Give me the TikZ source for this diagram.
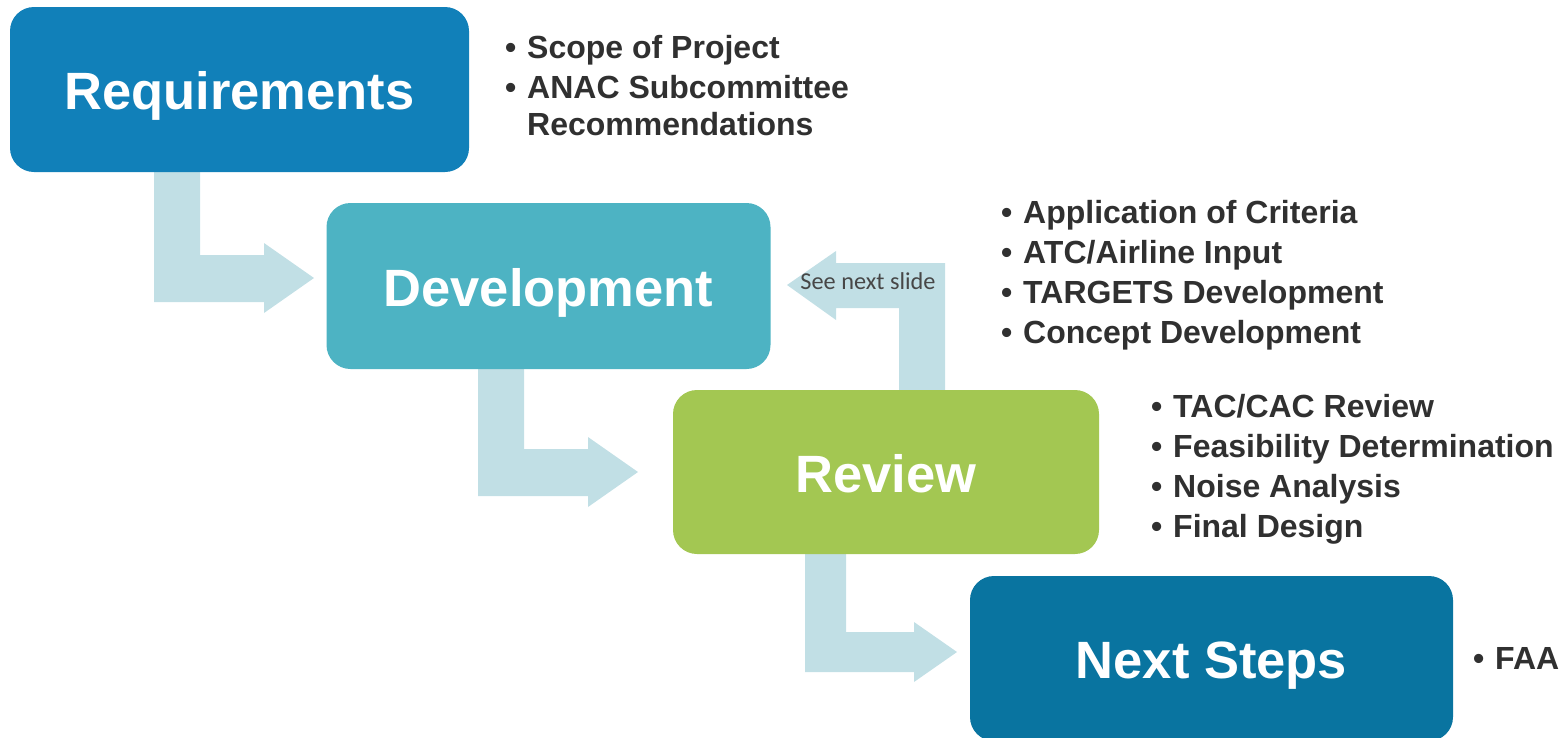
\documentclass[tikz,border=0pt]{standalone}
\usepackage{fontspec}
\setmainfont{Liberation Sans}
\newfontfamily\calibfont{Carlito}
\usetikzlibrary{backgrounds}
\definecolor{reqblue}{RGB}{17,128,185}
\definecolor{devteal}{RGB}{77,179,195}
\definecolor{revgreen}{RGB}{163,199,82}
\definecolor{nextblue}{RGB}{9,116,160}
\definecolor{flowc}{RGB}{193,223,229}
\definecolor{txtgray}{RGB}{48,48,48}
\newcommand\mybul{\makebox[22pt][l]{•}}
\begin{document}
\begin{tikzpicture}[x=1pt,y=-1pt,
  stage/.style={rounded corners=24pt, inner sep=0pt, text=white,
    font=\fontsize{52.5}{60}\selectfont\bfseries, text height=40pt, text depth=-2.4pt},
  flow/.style={fill=flowc},
  item/.style={anchor=base west, inner sep=0pt, text=txtgray,
    font=\fontsize{32}{38}\selectfont\bfseries},
  note/.style={anchor=base, inner sep=0pt, text=black!72,
    font=\calibfont\fontsize{24.3}{28}\selectfont}]
\useasboundingbox (0,0) rectangle (1568,737);

% stages
\node[stage, fill=reqblue, minimum width=459pt, minimum height=165pt] (req) at (239.5,89.5) {Requirements};
\node[stage, fill=devteal, minimum width=444pt, minimum height=166pt] (dev) at (548.5,286) {Development};
\node[stage, fill=revgreen, minimum width=426pt, minimum height=164pt] (rev) at (886,472) {Review};
\node[stage, fill=nextblue, minimum width=483pt, minimum height=165pt] (nxt) at (1211.5,658.5) {Next Steps};

% flow arrows (behind the stages)
\begin{pgfonlayer}{background}
\fill[flow] (154,0 |- req.south) -- (200,0 |- req.south) -- (200,255) -- (264,255) -- (264,243)
  -- (314,278) -- (264,313) -- (264,302) -- (154,302) -- cycle;
\fill[flow] (478,0 |- dev.south) -- (524,0 |- dev.south) -- (524,449) -- (588,449) -- (588,437)
  -- (638,472) -- (588,507) -- (588,496) -- (478,496) -- cycle;
\fill[flow] (805,0 |- rev.south) -- (846,0 |- rev.south) -- (846,632) -- (914,632) -- (914,622)
  -- (957,652) -- (914,682) -- (914,672) -- (805,672) -- cycle;
\fill[flow] (899,0 |- rev.north) -- (945,0 |- rev.north) -- (945,263) -- (836,263) -- (836,251)
  -- (787,285) -- (836,320) -- (836,308) -- (899,308) -- cycle;
\end{pgfonlayer}

\node[note] (see) at (868,289) {See next slide};

% bullet lists
\node[item] (r1) at (505,58) {\mybul Scope of Project};
\node[item] (r2) at (505,98) {\mybul ANAC Subcommittee};
\node[item] (r3) at (505,135) {\hspace*{22pt}Recommendations};

\foreach \t [count=\i] in {Application of Criteria, ATC/Airline Input, TARGETS Development, Concept Development}
  \node[item] (d\i) at (1001,{223+40*(\i-1)}) {\mybul\t};

\foreach \t [count=\i] in {TAC/CAC Review, Feasibility Determination, Noise Analysis, Final Design}
  \node[item] (v\i) at (1151,{417+40*(\i-1)}) {\mybul\t};

\node[item] (f1) at (1473,669.5) {\mybul FAA};
\end{tikzpicture}
\end{document}
